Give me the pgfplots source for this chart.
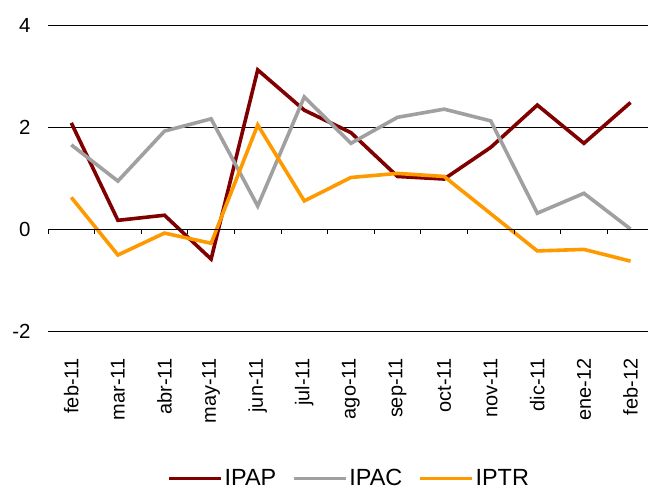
\documentclass[border=0pt]{standalone}
\usepackage{fontspec}
\setmainfont{Liberation Sans}
\usepackage{pgfplots}
\pgfplotsset{compat=1.18}
\definecolor{ipap}{RGB}{128,0,0}
\definecolor{ipac}{RGB}{160,160,160}
\definecolor{iptr}{RGB}{255,153,0}
\begin{document}
\begin{tikzpicture}
\begin{axis}[
  scale only axis, width=600bp, height=306bp,
  xmin=-0.5, xmax=12.375, ymin=-2, ymax=4,
  axis line style={draw=none},
  ytick={-2,0,2,4},
  ymajorgrids, grid style={black, line width=0.9bp},
  major tick length=0pt,
  xtick={0,...,12},
  xticklabels={feb-11,mar-11,abr-11,may-11,jun-11,jul-11,ago-11,sep-11,oct-11,nov-11,dic-11,ene-12,feb-12},
  xticklabel style={rotate=90, anchor=east, xshift=-24bp, font=\fontsize{20}{24}\selectfont},
  yticklabel style={xshift=-14bp, font=\fontsize{20.5}{24}\selectfont},
  /pgf/number format/assume math mode=true,
  legend columns=3,
  legend style={draw=none, fill=none, at={(0.502,-0.482)}, anchor=center,
    font=\fontsize{23.5}{28}\selectfont,
    /tikz/every even column/.append style={column sep=14bp}},
  legend image code/.code={\draw[#1, line width=3.2bp] (0bp,0bp) -- (52bp,0bp);},
]
\addplot[ipap, line width=3.6bp] coordinates {
(0,2.08) (1,0.17) (2,0.27) (3,-0.59) (4,3.12) (5,2.33) (6,1.89) (7,1.03) (8,0.98) (9,1.60) (10,2.43) (11,1.68) (12,2.48)};
\addlegendentry{IPAP}
\addplot[ipac, line width=3.6bp] coordinates {
(0,1.65) (1,0.94) (2,1.92) (3,2.16) (4,0.45) (5,2.59) (6,1.68) (7,2.19) (8,2.35) (9,2.12) (10,0.31) (11,0.70) (12,0.0)};
\addlegendentry{IPAC}
\addplot[iptr, line width=3.6bp] coordinates {
(0,0.62) (1,-0.51) (2,-0.08) (3,-0.28) (4,2.04) (5,0.55) (6,1.01) (7,1.09) (8,1.03) (9,0.30) (10,-0.43) (11,-0.40) (12,-0.63)};
\addlegendentry{IPTR}
\end{axis}
\begin{axis}[
  at={(0bp,102bp)}, anchor=south west,
  scale only axis, width=600bp, height=204bp,
  xmin=-0.5, xmax=12.375, ymin=0, ymax=4,
  axis x line*=bottom, axis y line=none,
  axis line style={-, black, line width=0.9bp},
  xtick={-0.5,0.5,...,11.5}, xticklabels={},
  ytick=\empty,
  major tick length=5bp, tick align=outside,
  tick style={black, line width=0.9bp},
]
\end{axis}
\pgfresetboundingbox
\useasboundingbox (-48bp,-160bp) rectangle (600bp,331bp);
\end{tikzpicture}
\end{document}
